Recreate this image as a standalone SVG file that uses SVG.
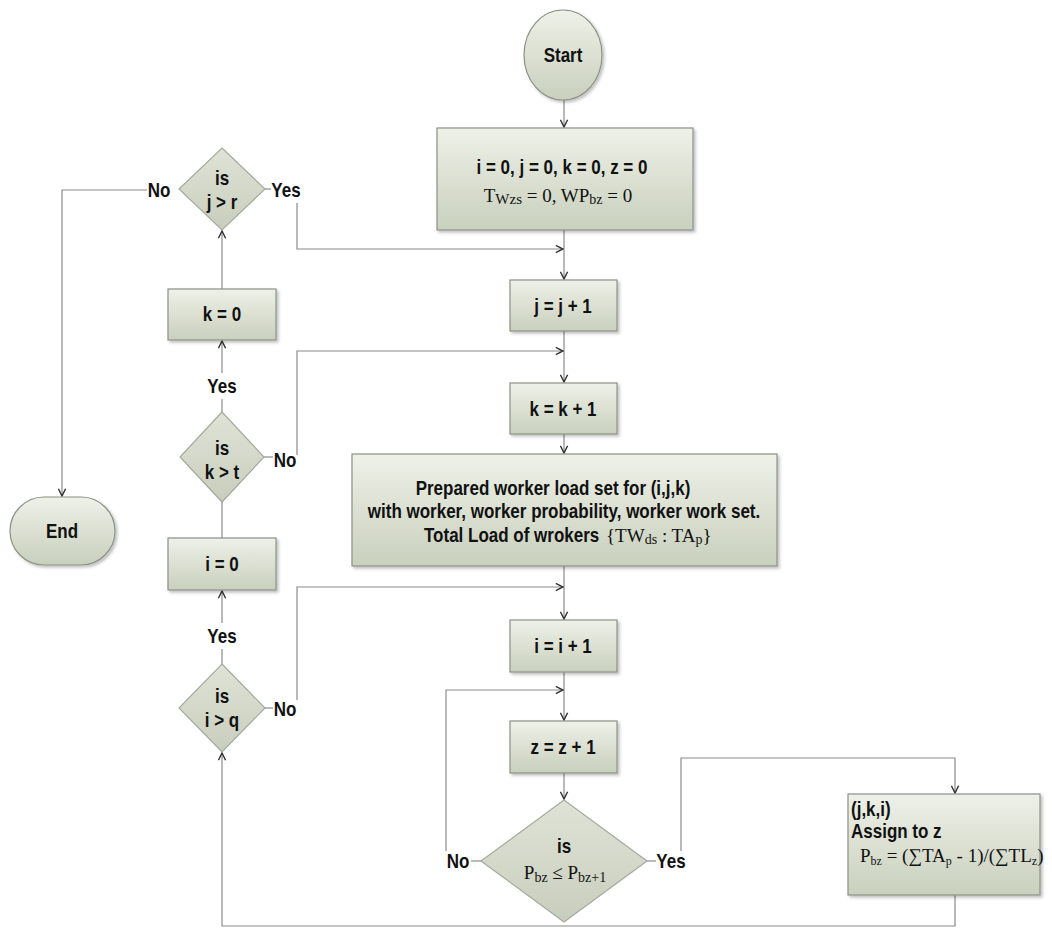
<svg xmlns="http://www.w3.org/2000/svg" width="1052" height="932" viewBox="0 0 1052 932">
<defs>
<linearGradient id="gbox" x1="0" y1="0" x2="0" y2="1">
<stop offset="0" stop-color="#eef1e8"/>
<stop offset="1" stop-color="#c9d0bd"/>
</linearGradient>
<linearGradient id="gdia" x1="0" y1="0" x2="0" y2="1">
<stop offset="0" stop-color="#dfe3d7"/>
<stop offset="1" stop-color="#c8cebd"/>
</linearGradient>
<filter id="sh" x="-10%" y="-10%" width="130%" height="130%">
<feDropShadow dx="2" dy="2" stdDeviation="1.5" flood-color="#000" flood-opacity="0.25"/>
</filter>
<marker id="ar" viewBox="0 0 10 10" refX="9" refY="5" markerWidth="9" markerHeight="9" markerUnits="userSpaceOnUse" orient="auto">
<path d="M1,1 L9,5 L1,9" fill="none" stroke="#333" stroke-width="1.6"/>
</marker>
<style>
.b{fill:url(#gbox);stroke:#8c9186;stroke-width:1.2;filter:url(#sh)}
.d{fill:url(#gdia);stroke:#a4aa9c;stroke-width:1.2}
.c{fill:none;stroke:#8a8a8a;stroke-width:1.2}
.t{font-family:'Liberation Sans',Arial,sans-serif;font-weight:bold;font-size:20px;fill:#111;text-anchor:middle}
.l{font-family:'Liberation Sans',Arial,sans-serif;font-weight:bold;font-size:20px;fill:#111}
.s{font-family:'Liberation Serif','Times New Roman',serif;font-size:19px;fill:#111}
</style>
</defs>

<g id="connectors">
<path class="c" d="M564,100 V127" marker-end="url(#ar)"/>
<path class="c" d="M564,230 V279" marker-end="url(#ar)"/>
<path class="c" d="M297,203 V249 H563" marker-end="url(#ar)"/>
<path class="c" d="M564,331 V382" marker-end="url(#ar)"/>
<path class="c" d="M297,455 V351 H563" marker-end="url(#ar)"/>
<path class="c" d="M564,434 V453" marker-end="url(#ar)"/>
<path class="c" d="M564,566 V619" marker-end="url(#ar)"/>
<path class="c" d="M297,700 V587 H563" marker-end="url(#ar)"/>
<path class="c" d="M564,672 V720" marker-end="url(#ar)"/>
<path class="c" d="M446,851 V690 H563" marker-end="url(#ar)"/>
<path class="c" d="M564,773 V799" marker-end="url(#ar)"/>
<path class="c" d="M681,851 V758 H955 V793" marker-end="url(#ar)"/>
<path class="c" d="M955,895 V926 H222 V753" marker-end="url(#ar)"/>
<path class="c" d="M222,664 V649"/>
<path class="c" d="M222,623 V591" marker-end="url(#ar)"/>
<path class="c" d="M222,502 V538"/>
<path class="c" d="M222,412 V399"/>
<path class="c" d="M222,373 V341" marker-end="url(#ar)"/>
<path class="c" d="M222,289 V231" marker-end="url(#ar)"/>
<path class="c" d="M147,190 H62 V496" marker-end="url(#ar)"/>
<path class="c" d="M265,189 H271"/>
<path class="c" d="M264,457 H273"/>
<path class="c" d="M265,708 H273"/>
<path class="c" d="M471,861 H481"/>
<path class="c" d="M647,861 H656"/>
</g>

<g id="start">
<ellipse class="b" cx="563" cy="55" rx="39" ry="45"/>
<text class="t" transform="matrix(0.85,0,0,1,563,0)" x="0" y="62">Start</text>
</g>

<g id="init">
<rect class="b" x="437" y="128" width="256" height="102"/>
<text class="t" transform="matrix(0.85,0,0,1,562,0)" x="0" y="174" font-size="21">i = 0, j = 0, k = 0, z = 0</text>
<text class="s" x="558" y="202" text-anchor="middle">T<tspan font-size="15" dy="2">Wzs</tspan><tspan dy="-2"> = 0, WP</tspan><tspan font-size="14" dy="2">bz</tspan><tspan dy="-2"> = 0</tspan></text>
</g>

<g id="jinc">
<rect class="b" x="510" y="280" width="107" height="51"/>
<text class="t" transform="matrix(0.85,0,0,1,563,0)" x="0" y="313">j = j + 1</text>
</g>

<g id="kinc">
<rect class="b" x="510" y="383" width="107" height="51"/>
<text class="t" transform="matrix(0.85,0,0,1,563,0)" x="0" y="416">k = k + 1</text>
</g>

<g id="prepare">
<rect class="b" x="352" y="454" width="425" height="112"/>
<text class="t" transform="matrix(0.85,0,0,1,553,0)" x="0" y="495">Prepared worker load set for (i,j,k)</text>
<text class="t" transform="matrix(0.85,0,0,1,564,0)" x="0" y="518">with worker, worker probability, worker work set.</text>
<text class="l" transform="matrix(0.85,0,0,1,424,0)" x="0" y="542">Total Load of wrokers</text>
<text class="s" x="606" y="542">{TW<tspan font-size="14" dy="2">ds</tspan><tspan dy="-2"> : TA</tspan><tspan font-size="14" dy="2">p</tspan><tspan dy="-2">}</tspan></text>
</g>

<g id="iinc">
<rect class="b" x="510" y="620" width="107" height="52"/>
<text class="t" transform="matrix(0.85,0,0,1,563,0)" x="0" y="653">i = i + 1</text>
</g>

<g id="zinc">
<rect class="b" x="510" y="721" width="107" height="52"/>
<text class="t" transform="matrix(0.85,0,0,1,563,0)" x="0" y="754">z = z + 1</text>
</g>

<g id="pcheck">
<polygon class="d" points="564,800 647,861 564,922 481,861"/>
<text class="t" transform="matrix(0.85,0,0,1,564,0)" x="0" y="853">is</text>
<text class="s" x="565" y="879" text-anchor="middle">P<tspan font-size="14" dy="3">bz</tspan><tspan dy="-3"> ≤ P</tspan><tspan font-size="14" dy="3">bz+1</tspan></text>
<text class="t" transform="matrix(0.85,0,0,1,458,0)" x="0" y="868">No</text>
<text class="t" transform="matrix(0.85,0,0,1,671,0)" x="0" y="868">Yes</text>
</g>

<g id="assign">
<rect class="b" x="848" y="794" width="192" height="101"/>
<text class="l" transform="matrix(0.85,0,0,1,851,0)" x="0" y="816">(j,k,i)</text>
<text class="l" transform="matrix(0.85,0,0,1,851,0)" x="0" y="838">Assign to z</text>
<text class="s" x="860" y="862" font-size="17">P<tspan font-size="12" dy="3">bz</tspan><tspan dy="-3"> = (∑TA</tspan><tspan font-size="12" dy="3">p</tspan><tspan dy="-3"> - 1)/(∑TL</tspan><tspan font-size="12" dy="3">z</tspan><tspan dy="-3">)</tspan></text>
</g>

<g id="jcheck">
<polygon class="d" points="222,148 265,189 222,230 179,189"/>
<text class="t" transform="matrix(0.85,0,0,1,222,0)" x="0" y="185">is</text>
<text class="t" transform="matrix(0.85,0,0,1,222,0)" x="0" y="209">j &gt; r</text>
<text class="t" transform="matrix(0.85,0,0,1,159,0)" x="0" y="197">No</text>
<text class="t" transform="matrix(0.85,0,0,1,286,0)" x="0" y="197">Yes</text>
</g>

<g id="kreset">
<rect class="b" x="168" y="289" width="108" height="51"/>
<text class="t" transform="matrix(0.85,0,0,1,222,0)" x="0" y="321">k = 0</text>
</g>

<g id="kcheck">
<polygon class="d" points="222,412 264,457 222,502 180,457"/>
<text class="t" transform="matrix(0.85,0,0,1,222,0)" x="0" y="455">is</text>
<text class="t" transform="matrix(0.85,0,0,1,222,0)" x="0" y="479">k &gt; t</text>
<text class="t" transform="matrix(0.85,0,0,1,285,0)" x="0" y="467">No</text>
<text class="t" transform="matrix(0.85,0,0,1,222,0)" x="0" y="393">Yes</text>
</g>

<g id="ireset">
<rect class="b" x="168" y="538" width="108" height="52"/>
<text class="t" transform="matrix(0.85,0,0,1,222,0)" x="0" y="571">i = 0</text>
</g>

<g id="icheck">
<polygon class="d" points="222,664 265,708 222,752 179,708"/>
<text class="t" transform="matrix(0.85,0,0,1,222,0)" x="0" y="703">is</text>
<text class="t" transform="matrix(0.85,0,0,1,222,0)" x="0" y="727">i &gt; q</text>
<text class="t" transform="matrix(0.85,0,0,1,285,0)" x="0" y="716">No</text>
<text class="t" transform="matrix(0.85,0,0,1,222,0)" x="0" y="643">Yes</text>
</g>

<g id="end">
<rect class="b" x="10" y="497" width="105" height="68" rx="34" ry="34"/>
<text class="t" transform="matrix(0.85,0,0,1,62,0)" x="0" y="538">End</text>
</g>
</svg>
